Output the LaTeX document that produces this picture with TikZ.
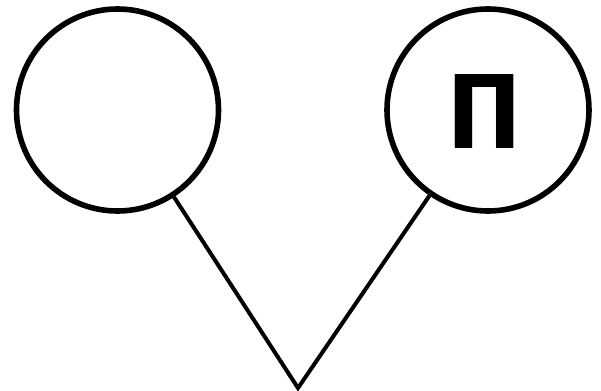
\documentclass[tikz,border=0pt]{standalone}
\usepackage{fontspec}
\newfontfamily\cyrfont{Liberation Sans}
\begin{document}
\begin{tikzpicture}[x=.5pt,y=-.5pt,line width=2pt,
    ring/.style={circle,draw,line width=2.8pt,minimum size=101pt,inner sep=0pt},
    letter/.style={font=\cyrfont\bfseries\fontsize{70}{70}\selectfont}]
  \useasboundingbox (0,0) rectangle (601,391);
  \node[ring] (L) at (117.5,110) {};
  \node[ring] (R) at (488,110) {};
  \node[letter] (p) at (484.5,112) {\scalebox{.9}[1]{п}};
  \coordinate (apex) at (298,388);
  \draw (L)--(apex)--(R);
\end{tikzpicture}
\end{document}
